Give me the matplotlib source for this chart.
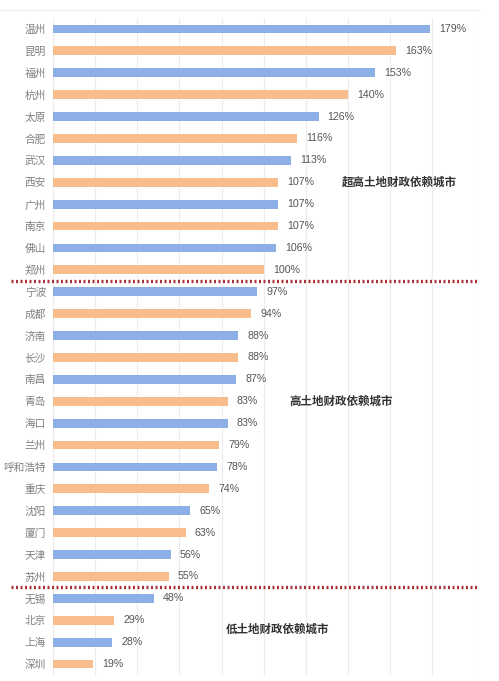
import matplotlib.pyplot as plt
from matplotlib.lines import Line2D

plt.rcParams["font.family"] = ["Noto Sans CJK SC", "DejaVu Sans"]

# data
cities = ["温州", "昆明", "福州", "杭州", "太原", "合肥", "武汉", "西安", "广州", "南京",
          "佛山", "郑州", "宁波", "成都", "济南", "长沙", "南昌", "青岛", "海口", "兰州",
          "呼和浩特", "重庆", "沈阳", "厦门", "天津", "苏州", "无锡", "北京", "上海", "深圳"]
ratios = [179, 163, 153, 140, 126, 116, 113, 107, 107, 107,
          106, 100, 97, 94, 88, 88, 87, 83, 83, 79,
          78, 74, 65, 63, 56, 55, 48, 29, 28, 19]
group_names = ["超高土地财政依赖城市", "高土地财政依赖城市", "低土地财政依赖城市"]
group_breaks = [11.5, 25.5]

blue = "#8CAFE5"
orange = "#F8BD8D"
colors = [blue if i % 2 == 0 else orange for i in range(len(cities))]

fig = plt.figure(figsize=(4.99, 6.81), dpi=100)
ax = fig.add_axes([0.1062, 0.0088, 0.8446, 0.9648])

pos = list(range(len(cities)))
ax.barh(pos, ratios, height=0.4, color=colors, zorder=2)

for p, v in zip(pos, ratios):
    ax.text(v + 4.3, p, f"{v}%", va="center", ha="left", fontsize=7.7,
            color="#555555", family=["Liberation Sans", "DejaVu Sans"])

ax.set_xlim(0, 200)
ax.set_ylim(len(cities) - 0.5, -0.5)
ax.set_xticks(range(0, 201, 20))
ax.xaxis.grid(True, color="#ECECEC", linewidth=0.8, zorder=0)
ax.tick_params(axis="both", length=0)
ax.set_xticklabels([])
ax.set_yticks(pos)
ax.set_yticklabels(cities, fontsize=7.7, color="#808080")
ax.tick_params(axis="y", pad=5)
for s in ax.spines.values():
    s.set_visible(False)

# dotted separators between groups
trans = ax.get_yaxis_transform()
for b in group_breaks:
    ax.plot([-0.1, 1.006], [b, b], transform=trans, clip_on=False,
            color="#AA3236", linestyle=(0, (0.6, 0.75)), linewidth=2.4, zorder=3)

# group labels
label_x = [137, 112, 82]
label_y = [7, 17, 27.4]
for name, lx, ly in zip(group_names, label_x, label_y):
    ax.text(lx, ly, name, ha="left", va="center", fontsize=8.3,
            color="#333333", fontweight="bold")

# light top border
fig.add_artist(Line2D([0.0, 0.962], [0.985, 0.985], color="#EEEEEE", linewidth=0.8))

fig.savefig("out.png", dpi=100, facecolor="white")
